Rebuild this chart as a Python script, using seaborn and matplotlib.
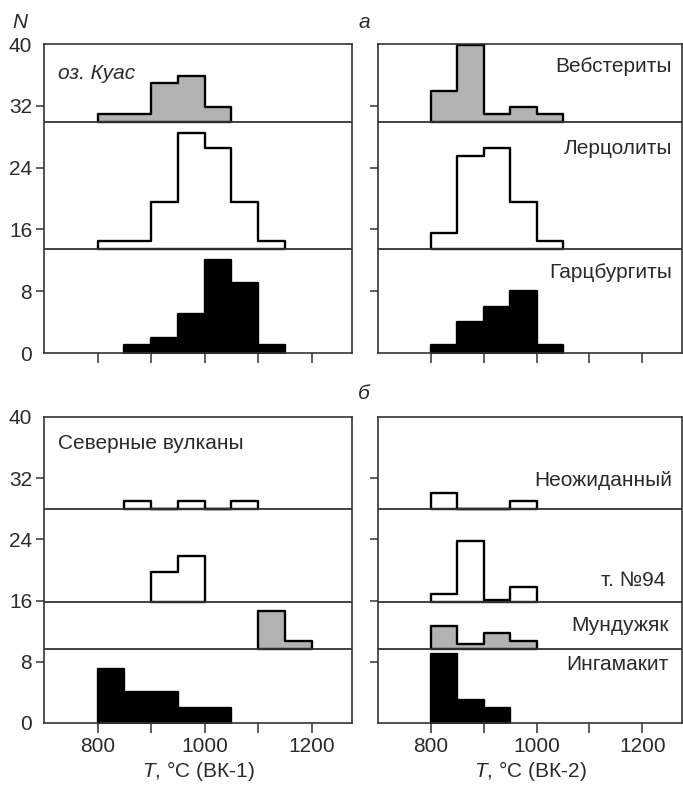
import numpy as np
import pandas as pd
import matplotlib
matplotlib.use("Agg")
import matplotlib.pyplot as plt
import matplotlib.transforms as mtransforms
import seaborn as sns

# ---------------- data ----------------
bin_left = [800, 850, 900, 950, 1000, 1050, 1100, 1150]
BIN_W = 50

# panel "а" (counts per 50 °C bin, starting at 800)
a_bk1_webst = [1, 1, 5, 6, 2, 0, 0, 0]
a_bk1_lherz = [1, 1, 6, 15, 13, 6, 1, 0]
a_bk1_harzb = [0, 1, 2, 5, 12, 9, 1, 0]
a_bk2_webst = [4, 10, 1, 2, 1, 0, 0, 0]
a_bk2_lherz = [2, 12, 13, 6, 1, 0, 0, 0]
a_bk2_harzb = [1, 4, 6, 8, 1, 0, 0, 0]

# panel "б"
b_bk1_neozh = [0, 1, 0, 1, 0, 1, 0, 0]
b_bk1_t94 = [0, 0, 4, 6, 0, 0, 0, 0]
b_bk1_mund = [0, 0, 0, 0, 0, 0, 5, 1]
b_bk1_ingam = [7, 4, 4, 2, 2, 0, 0, 0]
b_bk2_neozh = [2, 0, 0, 1, 0, 0, 0, 0]
b_bk2_t94 = [1, 8, 0.3, 2, 0, 0, 0, 0]
b_bk2_mund = [3, 0.6, 2, 1, 0, 0, 0, 0]
b_bk2_ingam = [9, 3, 2, 0, 0, 0, 0, 0]

a_names = ["Вебстериты", "Лерцолиты", "Гарцбургиты"]
b_names = ["Неожиданный", "т. №94", "Мундужяк", "Ингамакит"]
a_bases = [29.9, 13.5, 0]
b_bases = [28.0, 15.8, 9.7, 0]

y_ticks = [0, 8, 16, 24, 32, 40]
x_ticks = [800, 900, 1000, 1100, 1200]
x_ticklabels = ["800", "", "1000", "", "1200"]

GRAY = "#b3b3b3"
SPINE = "#333333"
TXT = "#2a2a2a"

# ---------------- style ----------------
sns.set_theme(style="ticks")
plt.rcParams["font.family"] = ["Liberation Sans", "DejaVu Sans"]
plt.rcParams["mathtext.fontset"] = "custom"
plt.rcParams["mathtext.it"] = "Liberation Sans:italic"
plt.rcParams["mathtext.rm"] = "Liberation Sans"
FS = 15

W, H = 683, 791
fig = plt.figure(figsize=(W / 100, H / 100), dpi=100)


def add_ax(x0, y_top, w, y_bot):
    return fig.add_axes([x0 / W, 1 - y_bot / H, w / W, (y_bot - y_top) / H])


ax_a1 = add_ax(44, 44, 308, 353)
ax_a2 = add_ax(378, 44, 304, 353)
ax_b1 = add_ax(44, 417, 308, 723)
ax_b2 = add_ax(378, 417, 304, 723)


def draw_hist(ax, counts, base, color):
    nz = [i for i, c in enumerate(counts) if c > 0]
    i0, i1 = nz[0], nz[-1]
    edges = bin_left[i0:i1 + 1] + [bin_left[i1] + BIN_W]
    centers = [l + BIN_W / 2 for l in bin_left[i0:i1 + 1]]
    weights = counts[i0:i1 + 1]
    df = pd.DataFrame({"T": centers, "N": weights})
    nc, nl = len(ax.collections), len(ax.lines)
    sns.histplot(data=df, x="T", weights="N", bins=edges, element="step",
                 fill=True, color=color, edgecolor="black", linewidth=1.7,
                 alpha=1, ax=ax, zorder=2)
    shift = mtransforms.Affine2D().translate(0, base) + ax.transData
    for art in ax.collections[nc:]:
        art.set_transform(shift)
        art.set_facecolor(color)
        art.set_edgecolor("black")
    for art in ax.lines[nl:]:
        art.set_transform(shift)


colors_a = [GRAY, "white", "black"]
colors_b = ["white", "white", GRAY, "black"]

draw_hist(ax_a1, a_bk1_webst, a_bases[0], colors_a[0])
draw_hist(ax_a1, a_bk1_lherz, a_bases[1], colors_a[1])
draw_hist(ax_a1, a_bk1_harzb, a_bases[2], colors_a[2])
draw_hist(ax_a2, a_bk2_webst, a_bases[0], colors_a[0])
draw_hist(ax_a2, a_bk2_lherz, a_bases[1], colors_a[1])
draw_hist(ax_a2, a_bk2_harzb, a_bases[2], colors_a[2])

draw_hist(ax_b1, b_bk1_neozh, b_bases[0], colors_b[0])
draw_hist(ax_b1, b_bk1_t94, b_bases[1], colors_b[1])
draw_hist(ax_b1, b_bk1_mund, b_bases[2], colors_b[2])
draw_hist(ax_b1, b_bk1_ingam, b_bases[3], colors_b[3])
draw_hist(ax_b2, b_bk2_neozh, b_bases[0], colors_b[0])
draw_hist(ax_b2, b_bk2_t94, b_bases[1], colors_b[1])
draw_hist(ax_b2, b_bk2_mund, b_bases[2], colors_b[2])
draw_hist(ax_b2, b_bk2_ingam, b_bases[3], colors_b[3])

for ax, bases in [(ax_a1, a_bases), (ax_a2, a_bases), (ax_b1, b_bases), (ax_b2, b_bases)]:
    for b in bases[:-1]:
        ax.axhline(b, color=SPINE, lw=1.3, zorder=3)
    ax.set_xlim(700, 1275)
    ax.set_ylim(0, 40)
    ax.set_xticks(x_ticks)
    ax.set_yticks(y_ticks)
    ax.set_xlabel("")
    ax.set_ylabel("")
    for s in ax.spines.values():
        s.set_visible(True)
        s.set_color(SPINE)
        s.set_linewidth(1.2)
    ax.tick_params(axis="both", direction="out", colors=SPINE, width=1.1,
                   labelsize=FS, labelcolor=TXT)
    ax.tick_params(axis="x", length=7, pad=3)
    ax.tick_params(axis="y", length=6, pad=2.5)
    yt = ax.yaxis.get_major_ticks()
    yt[0].tick1line.set_visible(False)
    yt[-1].tick1line.set_visible(False)

for ax in [ax_a1, ax_b1]:
    ax.set_yticklabels([str(v) for v in y_ticks])
for ax in [ax_a2, ax_b2]:
    ax.set_yticklabels([])
for ax in [ax_a1, ax_a2]:
    ax.set_xticklabels([])
for ax in [ax_b1, ax_b2]:
    ax.set_xticklabels(x_ticklabels)

ax_b1.set_xlabel("$T$, °C (ВК-1)", fontsize=FS, labelpad=2, color=TXT)
ax_b2.set_xlabel("$T$, °C (ВК-2)", fontsize=FS, labelpad=2, color=TXT)

# labels
a_label_y = [0.926, 0.663, 0.262]
b_label_y = [0.794, 0.467, 0.320, 0.190]
for name, yy in zip(a_names, a_label_y):
    ax_a2.text(0.967, yy, name, transform=ax_a2.transAxes, ha="right", va="center",
               fontsize=FS, color=TXT)
b_label_x = [0.967, 0.944, 0.955, 0.955]
for name, yy, xx in zip(b_names, b_label_y, b_label_x):
    ax_b2.text(xx, yy, name, transform=ax_b2.transAxes, ha="right", va="center",
               fontsize=FS, color=TXT)

ax_a1.text(0.045, 0.906, "оз. Куас", transform=ax_a1.transAxes, ha="left", va="center",
           fontsize=FS, style="italic", color=TXT)
ax_b1.text(0.045, 0.912, "Северные вулканы", transform=ax_b1.transAxes, ha="left",
           va="center", fontsize=FS, color=TXT)

fig.text(20 / W, 1 - 22 / H, "N", fontsize=FS, style="italic", ha="center", va="center",
         color=TXT)
fig.text(364 / W, 1 - 22 / H, "а", fontsize=FS, style="italic", ha="center", va="center",
         color=TXT)
fig.text(364 / W, 1 - 393 / H, "б", fontsize=FS, style="italic", ha="center", va="center",
         color=TXT)

fig.savefig("out.png", dpi=100)
